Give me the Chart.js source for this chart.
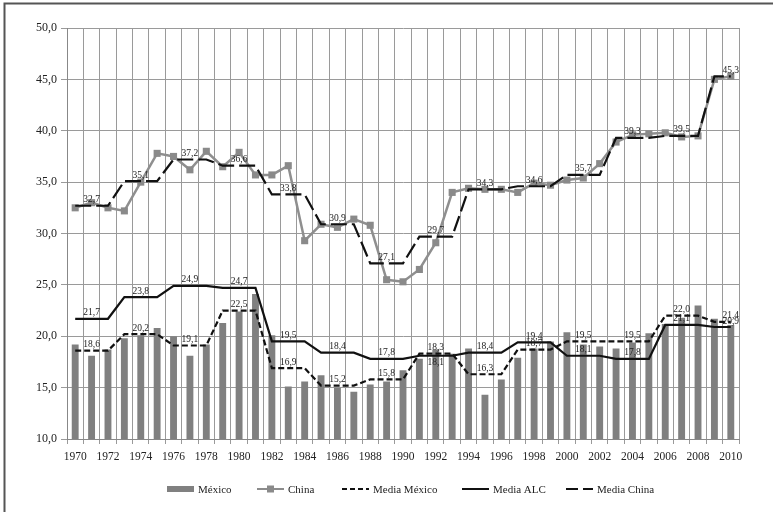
<!DOCTYPE html>
<html>
<head>
<meta charset="utf-8">
<script src="https://cdn.jsdelivr.net/npm/chart.js@4"></script>
<style>
  html, body { margin: 0; padding: 0; background: #fff; }
  #wrap { width: 773px; height: 512px; position: relative; }
</style>
</head>
<body>
<div id="wrap"><canvas id="myChart" width="773" height="512"></canvas></div>
<script>
var years = ["1970","1971","1972","1973","1974","1975","1976","1977","1978","1979",
             "1980","1981","1982","1983","1984","1985","1986","1987","1988","1989",
             "1990","1991","1992","1993","1994","1995","1996","1997","1998","1999",
             "2000","2001","2002","2003","2004","2005","2006","2007","2008","2009","2010"];

var mexico = [19.2, 18.1, 18.7, 19.8, 20.1, 20.8, 20.0, 18.1, 19.2, 21.3,
              22.4, 24.1, 20.1, 15.1, 15.6, 16.2, 15.0, 14.6, 15.3, 15.6,
              16.7, 17.8, 18.7, 18.3, 18.8, 14.3, 15.8, 17.9, 18.8, 19.5,
              20.4, 19.2, 19.0, 18.8, 19.4, 20.3, 21.2, 21.8, 23.0, 21.7, 21.1];

var china = [32.5, 33.0, 32.5, 32.2, 35.0, 37.8, 37.5, 36.2, 38.0, 36.5,
             37.9, 35.7, 35.7, 36.6, 29.3, 30.9, 30.6, 31.4, 30.8, 25.5,
             25.3, 26.5, 29.1, 34.0, 34.4, 34.3, 34.3, 34.0, 34.9, 34.7,
             35.2, 35.4, 36.8, 38.9, 39.6, 39.7, 39.8, 39.4, 39.5, 45.0, 45.3];

var mediaMexico = [18.6, 18.6, 18.6, 20.2, 20.2, 20.2, 19.1, 19.1, 19.1, 22.5,
                   22.5, 22.5, 16.9, 16.9, 16.9, 15.2, 15.2, 15.2, 15.8, 15.8,
                   15.8, 18.3, 18.3, 18.3, 16.3, 16.3, 16.3, 18.7, 18.7, 18.7,
                   19.5, 19.5, 19.5, 19.5, 19.5, 19.5, 22.0, 22.0, 22.0, 21.4, 21.4];

var mediaALC = [21.7, 21.7, 21.7, 23.8, 23.8, 23.8, 24.9, 24.9, 24.9, 24.7,
                24.7, 24.7, 19.5, 19.5, 19.5, 18.4, 18.4, 18.4, 17.8, 17.8,
                17.8, 18.1, 18.1, 18.1, 18.4, 18.4, 18.4, 19.4, 19.4, 19.4,
                18.1, 18.1, 18.1, 17.8, 17.8, 17.8, 21.1, 21.1, 21.1, 20.9, 20.9];

var mediaChina = [32.7, 32.7, 32.7, 35.1, 35.1, 35.1, 37.2, 37.2, 37.2, 36.6,
                  36.6, 36.6, 33.8, 33.8, 33.8, 30.9, 30.9, 30.9, 27.1, 27.1,
                  27.1, 29.7, 29.7, 29.7, 34.3, 34.3, 34.3, 34.6, 34.6, 34.6,
                  35.7, 35.7, 35.7, 39.3, 39.3, 39.3, 39.5, 39.5, 39.5, 45.3, 45.3];

var serif = "'Liberation Serif', 'DejaVu Serif', serif";
Chart.defaults.font.family = serif;
Chart.defaults.color = "#222";

function fmt(v) { return v.toFixed(1).replace(".", ","); }

// etiquetas de las medias (año central de cada trienio) + marco + leyenda
var extras = {
    id: "extras",
    afterDatasetsDraw: function(chart) {
        var ctx = chart.ctx;
        ctx.save();
        ctx.font = "9.5px " + serif;
        ctx.fillStyle = "#222";
        ctx.textAlign = "center";
        ctx.textBaseline = "middle";
        [2, 3, 4].forEach(function(di) {
            var meta = chart.getDatasetMeta(di);
            var data = chart.data.datasets[di].data;
            meta.data.forEach(function(pt, i) {
                if (i % 3 != 1) return;
                var dy = -6;
                if (di == 3 && i == 22) dy = 7;
                ctx.fillText(fmt(data[i]), pt.x, pt.y + dy);
            });
        });
        ctx.restore();
    },
    afterDraw: function(chart) {
        var ctx = chart.ctx;
        ctx.save();
        // marco
        ctx.strokeStyle = "#555";
        ctx.lineWidth = 2;
        ctx.beginPath();
        ctx.moveTo(4.5, 512);
        ctx.lineTo(4.5, 3.5);
        ctx.lineTo(773, 3.5);
        ctx.stroke();

        // leyenda
        var y = 489;
        var items = [
            { x: 167, label: chart.data.datasets[0].label, kind: "bar" },
            { x: 257, label: chart.data.datasets[1].label, kind: "china" },
            { x: 342, label: chart.data.datasets[2].label, dash: [5, 3] },
            { x: 462, label: chart.data.datasets[3].label, dash: [] },
            { x: 566, label: chart.data.datasets[4].label, dash: [12, 5] }
        ];
        ctx.font = "11px " + serif;
        ctx.textBaseline = "middle";
        ctx.textAlign = "left";
        items.forEach(function(it) {
            if (it.kind == "bar") {
                ctx.fillStyle = "#808080";
                ctx.fillRect(it.x, y - 3, 27, 6);
            } else if (it.kind == "china") {
                ctx.strokeStyle = "#8c8c8c";
                ctx.lineWidth = 2;
                ctx.setLineDash([]);
                ctx.beginPath();
                ctx.moveTo(it.x, y);
                ctx.lineTo(it.x + 27, y);
                ctx.stroke();
                ctx.fillStyle = "#8a8a8a";
                ctx.fillRect(it.x + 10, y - 3.5, 7, 7);
            } else {
                ctx.strokeStyle = "#111";
                ctx.lineWidth = 2;
                ctx.setLineDash(it.dash);
                ctx.beginPath();
                ctx.moveTo(it.x, y);
                ctx.lineTo(it.x + 27, y);
                ctx.stroke();
                ctx.setLineDash([]);
            }
            ctx.fillStyle = "#222";
            ctx.fillText(it.label, it.x + 31, y + 1);
        });
        ctx.restore();
    }
};

new Chart("myChart", {
    type: "bar",
    data: {
        labels: years,
        datasets: [
            {
                type: "bar",
                label: "México",
                data: mexico,
                backgroundColor: "#808080",
                barPercentage: 0.42,
                categoryPercentage: 1,
                order: 10
            },
            {
                type: "line",
                label: "China",
                data: china,
                borderColor: "#8f8f8f",
                backgroundColor: "#8a8a8a",
                borderWidth: 2.5,
                pointStyle: "rect",
                pointRadius: 5,
                pointBorderWidth: 0,
                tension: 0,
                order: 4
            },
            {
                type: "line",
                label: "Media México",
                data: mediaMexico,
                borderColor: "#111",
                borderWidth: 2.2,
                borderDash: [6, 3],
                pointRadius: 0,
                tension: 0,
                order: 3
            },
            {
                type: "line",
                label: "Media ALC",
                data: mediaALC,
                borderColor: "#111",
                borderWidth: 2.2,
                pointRadius: 0,
                tension: 0,
                order: 2
            },
            {
                type: "line",
                label: "Media China",
                data: mediaChina,
                borderColor: "#111",
                borderWidth: 2.2,
                borderDash: [16, 5],
                pointRadius: 0,
                tension: 0,
                order: 1
            }
        ]
    },
    options: {
        responsive: false,
        animation: false,
        layout: { padding: { left: 0, top: 28, right: 34, bottom: 0 } },
        plugins: {
            legend: { display: false },
            title: { display: false },
            tooltip: { enabled: false }
        },
        scales: {
            x: {
                offset: true,
                grid: { offset: true, color: "#9a9a9a", lineWidth: 1, tickLength: 5, drawTicks: true },
                border: { color: "#888", width: 1 },
                ticks: {
                    autoSkip: false,
                    maxRotation: 0,
                    padding: 6,
                    font: { size: 11.5 },
                    color: "#222",
                    callback: function(val, i) { return i % 2 == 0 ? years[i] : ""; }
                },
                afterFit: function(s) { s.height = 73; }
            },
            y: {
                min: 10,
                max: 50,
                grid: { color: "#9a9a9a", lineWidth: 1, tickLength: 6 },
                border: { color: "#888", width: 1 },
                ticks: {
                    stepSize: 5,
                    padding: 4,
                    font: { size: 12 },
                    color: "#222",
                    callback: function(v) { return fmt(v); }
                },
                afterFit: function(s) { s.width = 67; }
            }
        }
    },
    plugins: [extras]
});
</script>
</body>
</html>
